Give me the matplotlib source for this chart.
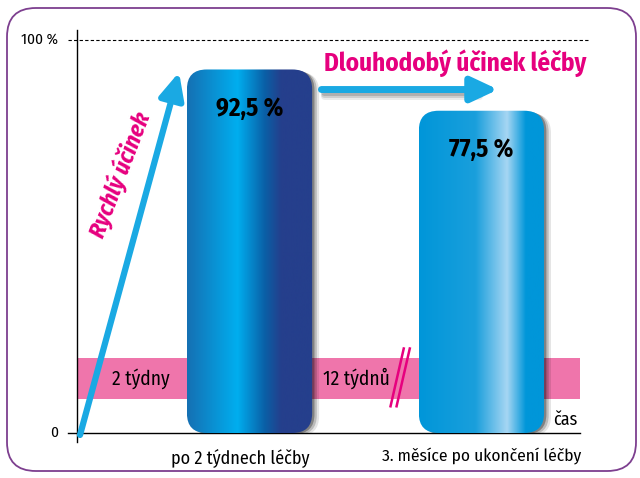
import matplotlib
matplotlib.use("Agg")
import matplotlib.pyplot as plt
import numpy as np
from matplotlib import font_manager
from matplotlib.patches import FancyBboxPatch, Rectangle
from matplotlib.colors import LinearSegmentedColormap

# data
categories = ["po 2 týdnech léčby", "3. měsíce po ukončení léčby"]
values = [92.5, 77.5]
bar_tops = [92.5, 82.0]  # drawn heights as seen in the picture
band_labels = ["2 týdny", "12 týdnů"]
band_range = [8.7, 19.1]

names = {f.name for f in font_manager.fontManager.ttflist}
if "Fira Sans Condensed" in names:
    plt.rcParams["font.family"] = ["Fira Sans Condensed", "DejaVu Sans"]
else:
    plt.rcParams["font.family"] = ["DejaVu Sans"]
    plt.rcParams["font.stretch"] = "condensed"

fig = plt.figure(figsize=(6.4, 4.78), dpi=100)

# rounded frame
frame = FancyBboxPatch((7 / 640, 7 / 478), 629 / 640, 463 / 478,
                       boxstyle="round,pad=0,rounding_size=0.045",
                       transform=fig.transFigure, fc="none", ec="#7d3f8f", lw=1.3,
                       mutation_aspect=640 / 478)
fig.patches.append(frame)

ax = fig.add_axes([77 / 640, 45 / 478, 503 / 640, 393 / 478])
ax.set_xlim(-0.744, 1.425)
ax.set_ylim(0, 100)
ax.axis("off")
ax.patch.set_alpha(0)

# axes lines
ax.plot([-0.744, -0.744], [-2.2, 102.5], color="black", lw=1, clip_on=False)
ax.plot([-0.783, 1.425], [0, 0], color="black", lw=1, clip_on=False)
ax.plot([-0.783, 1.46], [100, 100], color="black", lw=0.8, ls=(0, (3, 2)), clip_on=False)
ax.text(-0.825, 100, "100 %", ha="right", va="center", fontsize=11)
ax.text(-0.825, 0, "0", ha="right", va="center", fontsize=11)
ax.text(1.415, 1.2, "čas", ha="right", va="bottom", fontsize=13)

# pink band
ax.add_patch(Rectangle((-0.744, band_range[0]), 2.169, band_range[1] - band_range[0],
                       fc="#ef75ab", ec="none", zorder=1))
mid = (band_range[0] + band_range[1]) / 2
ax.text(-0.468, mid, band_labels[0], ha="center", va="center", fontsize=14, zorder=2)
ax.text(0.462, mid, band_labels[1], ha="center", va="center", fontsize=14, zorder=2)
for dx in [0, 0.026]:
    ax.plot([0.608 + dx, 0.665 + dx], [6.8, 21.5], color="#e6007e", lw=1.8, zorder=3)

# bars with gradient
w = 0.54
asp = (100 / 393) / (1 / 232)
cmaps = [
    LinearSegmentedColormap.from_list("b1", [(0, "#1570b3"), (0.4, "#00aeef"),
                                             (0.62, "#0a5fa6"), (0.75, "#253f8c"), (1, "#253f8c")]),
    LinearSegmentedColormap.from_list("b2", [(0, "#0096d9"), (0.45, "#1a9fdc"),
                                             (0.7, "#a6d6f3"), (0.85, "#0096d9"), (1, "#0096d9")]),
]
grad = np.linspace(0, 1, 256).reshape(1, -1)
for i, (top, cm) in enumerate(zip(bar_tops, cmaps)):
    x0 = i - w / 2
    for off, a in [(0.03, 0.10), (0.02, 0.18), (0.01, 0.30)]:
        sh = FancyBboxPatch((x0 + off, -off * asp * 0.4), w, top,
                            boxstyle="round,pad=0,rounding_size=0.085",
                            mutation_aspect=asp, fc="black", ec="none", alpha=a, zorder=3)
        ax.add_patch(sh)
    box = FancyBboxPatch((x0, 0), w, top, boxstyle="round,pad=0,rounding_size=0.085",
                         mutation_aspect=asp, fc="none", ec="none", zorder=4)
    ax.add_patch(box)
    im = ax.imshow(grad, cmap=cm, extent=(x0, x0 + w, 0, top), aspect="auto", zorder=4)
    im.set_clip_path(box)
    ax.text(i, top - 10, f"{values[i]:.1f} %".replace(".", ","), ha="center", va="center",
            fontsize=18, fontweight="bold", zorder=5)
    ax.text(i - 0.04 * (1 - i), -3.8, categories[i], ha="center", va="top",
            fontsize=13 - 0.5 * i)

ax.set_xlim(-0.744, 1.425)
ax.set_ylim(0, 100)

# arrows
blue = "#1aa9e3"
head = "-|>,head_length=1.6,head_width=0.75"
ax.annotate("", xy=(-0.304, 91.8), xytext=(-0.731, -0.5),
            arrowprops=dict(arrowstyle=head, color=blue, lw=4.5, shrinkA=0, shrinkB=0),
            zorder=6, annotation_clip=False)
# soft shadow under the long-term arrow
for dy, a in [(1.6, 0.08), (1.1, 0.12), (0.6, 0.15)]:
    ax.plot([0.32, 0.99], [87.4 - dy, 87.4 - dy], color="black", lw=5, alpha=a,
            solid_capstyle="round", zorder=5)
ax.annotate("", xy=(1.072, 87.4), xytext=(0.31, 87.4),
            arrowprops=dict(arrowstyle=head, color=blue, lw=5,
                            shrinkA=0, shrinkB=0, capstyle="round"), zorder=6)
ax.text(-0.559, 65.6, "Rychlý účinek", rotation=69, ha="center", va="center", color="#e6007e",
        fontsize=17, fontweight="bold", fontstyle="italic", zorder=6)
ax.text(0.887, 94.2, "Dlouhodobý účinek léčby", ha="center", va="center", color="#e6007e",
        fontsize=18, fontweight="bold", zorder=6)

fig.savefig("out.png", dpi=100)
